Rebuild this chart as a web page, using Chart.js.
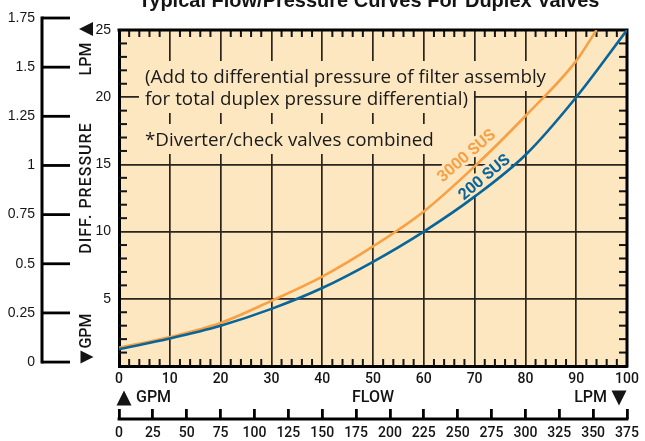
<!DOCTYPE html>
<html>
<head>
<meta charset="utf-8">
<title>Typical Flow/Pressure Curves For Duplex Valves</title>
<script src="https://cdn.jsdelivr.net/npm/chart.js@4.4.1/dist/chart.umd.min.js"></script>
<style>
  html, body { margin: 0; padding: 0; background: #ffffff; }
  canvas { display: block; }
</style>
</head>
<body>
<canvas id="flowChart" width="645" height="441"></canvas>
<script>
// flow (GPM) against pressure drop (PSI)
const flowGpm = [0, 10, 20, 30, 40, 50, 60, 70, 80, 90, 100];
const dp200Sus = [1.25, 2.05, 3.0, 4.25, 5.8, 7.75, 10.0, 12.6, 15.7, 20.0, 25.0];
const flowGpm3000 = [0, 10, 20, 30, 40, 50, 60, 70, 80, 90, 94];
const dp3000Sus = [1.35, 2.15, 3.2, 4.85, 6.65, 8.9, 11.5, 14.85, 18.6, 22.7, 25.0];

const flowTicks = [0, 10, 20, 30, 40, 50, 60, 70, 80, 90, 100];
const psiTicks = [5, 10, 15, 20, 25];
const barTicks = [0, 0.25, 0.5, 0.75, 1, 1.25, 1.5, 1.75];
const lpmTicks = [0, 25, 50, 75, 100, 125, 150, 175, 200, 225, 250, 275, 300, 325, 350, 375];

const chartTitle = "Typical Flow/Pressure Curves For Duplex Valves";
const noteLines = [
  "(Add to differential pressure of filter assembly",
  "for total duplex pressure differential)",
  "*Diverter/check valves combined"
];

const BLUE = "#08659a";
const ORANGE = "#f7a044";
const BEIGE = "#fde7c1";
const INK = "#141414";
const GRID = "#2a241c";
const DIN = "Roboto, 'DejaVu Sans', sans-serif";
const HELV = "'Liberation Sans', Arial, sans-serif";

function toPoints(xs, ys) {
  return xs.map((x, i) => ({ x, y: ys[i] }));
}

function seg(ctx, x1, y1, x2, y2) {
  ctx.beginPath();
  ctx.moveTo(x1, y1);
  ctx.lineTo(x2, y2);
  ctx.stroke();
}

function tri(ctx, cx, cy, dir, s) {
  const h = s / 2;
  ctx.beginPath();
  if (dir === "up") { ctx.moveTo(cx - h, cy + h); ctx.lineTo(cx + h, cy + h); ctx.lineTo(cx, cy - h); }
  if (dir === "down") { ctx.moveTo(cx - h, cy - h); ctx.lineTo(cx + h, cy - h); ctx.lineTo(cx, cy + h); }
  if (dir === "left") { ctx.moveTo(cx + h, cy - h); ctx.lineTo(cx + h, cy + h); ctx.lineTo(cx - h, cy); }
  if (dir === "right") { ctx.moveTo(cx - h, cy - h); ctx.lineTo(cx - h, cy + h); ctx.lineTo(cx + h, cy); }
  ctx.closePath();
  ctx.fill();
}

function rotText(ctx, text, x, y, angle, halo) {
  ctx.save();
  ctx.translate(x, y);
  ctx.rotate(angle);
  if (halo) {
    ctx.strokeStyle = BEIGE;
    ctx.lineWidth = 6;
    ctx.lineJoin = "round";
    ctx.strokeText(text, 0, 0);
  }
  ctx.fillText(text, 0, 0);
  ctx.restore();
}

const plotDecor = {
  id: "plotDecor",
  beforeDraw(chart) {
    const { ctx, chartArea: a } = chart;
    ctx.save();
    ctx.fillStyle = BEIGE;
    ctx.fillRect(a.left, a.top, a.right - a.left, a.bottom - a.top);
    ctx.restore();
  },
  beforeDatasetsDraw(chart) {
    const { ctx, chartArea: a, scales: { x, y } } = chart;
    ctx.save();

    // notes sit on beige patches that hide the grid behind them
    ctx.font = "18.8px 'Open Sans', sans-serif";
    ctx.textAlign = "left";
    ctx.textBaseline = "alphabetic";
    const noteX = 145;
    const baselines = [83, 105, 146];
    noteLines.forEach((t, i) => {
      const w = ctx.measureText(t).width;
      ctx.fillStyle = BEIGE;
      ctx.fillRect(noteX - 6, baselines[i] - 22, w + 12, 30);
    });
    ctx.fillStyle = "#1a1a1a";
    noteLines.forEach((t, i) => ctx.fillText(t, noteX, baselines[i]));

    // curve names, knocked out of the grid
    ctx.font = "bold 16px " + DIN;
    ctx.textAlign = "center";
    ctx.textBaseline = "middle";
    ctx.fillStyle = ORANGE;
    rotText(ctx, "3000 SUS", x.getPixelForValue(68.5), y.getPixelForValue(15.6), -41 * Math.PI / 180, true);
    ctx.fillStyle = BLUE;
    rotText(ctx, "200 SUS", x.getPixelForValue(72.0), y.getPixelForValue(14.0), -40 * Math.PI / 180, true);

    // minor ticks along the frame
    ctx.strokeStyle = INK;
    ctx.lineWidth = 2;
    for (let v = 1; v < y.max; v += 1) {
      if (v % 5 === 0) continue;
      const py = y.getPixelForValue(v);
      seg(ctx, a.left, py, a.left + 8, py);
      seg(ctx, a.right - 8, py, a.right, py);
    }
    for (let v = 2; v < x.max; v += 2) {
      if (v % 10 === 0) continue;
      const px = x.getPixelForValue(v);
      seg(ctx, px, a.top, px, a.top + 7);
      seg(ctx, px, a.bottom - 7, px, a.bottom);
    }

    // top and right edges of the frame
    ctx.strokeStyle = "#000";
    ctx.lineWidth = 3;
    ctx.beginPath();
    ctx.moveTo(a.left - 1.5, a.top);
    ctx.lineTo(a.right, a.top);
    ctx.lineTo(a.right, a.bottom + 1.5);
    ctx.stroke();
    ctx.restore();
  },
  afterDraw(chart) {
    const { ctx, scales: { bar, x2 } } = chart;
    ctx.save();
    ctx.fillStyle = INK;

    // title, mostly cut off by the top edge
    ctx.font = "bold 20px " + HELV;
    ctx.textAlign = "center";
    ctx.textBaseline = "alphabetic";
    ctx.fillText(chartTitle, 369, 7);

    // far left scale
    const axX = 42;
    const bTop = bar.getPixelForValue(barTicks[barTicks.length - 1]);
    const bBot = bar.getPixelForValue(barTicks[0]);
    ctx.strokeStyle = "#000";
    ctx.lineWidth = 3;
    seg(ctx, axX, bTop - 1.5, axX, bBot + 1.5);
    ctx.lineWidth = 2.8;
    ctx.font = "14px " + HELV;
    ctx.textAlign = "right";
    ctx.textBaseline = "middle";
    barTicks.forEach(v => {
      const py = bar.getPixelForValue(v);
      seg(ctx, axX, py, axX + 28, py);
      ctx.fillText(String(v), axX - 7, py);
    });

    // rotated side labels
    ctx.font = "500 16px " + DIN;
    ctx.textAlign = "center";
    ctx.textBaseline = "middle";
    ctx.letterSpacing = "1px";
    rotText(ctx, "DIFF. PRESSURE", 87, 188, -Math.PI / 2);
    ctx.letterSpacing = "0px";
    rotText(ctx, "LPM", 87, 59, -Math.PI / 2);
    rotText(ctx, "GPM", 87, 331, -Math.PI / 2);
    tri(ctx, 86, 29, "left", 14);
    tri(ctx, 87, 357, "right", 13);

    // bottom unit markers
    const midY = 398;
    tri(ctx, 124, midY, "up", 15);
    ctx.textAlign = "left";
    ctx.fillText("GPM", 136, midY);
    ctx.textAlign = "right";
    ctx.fillText("LPM", 607, midY);
    tri(ctx, 619, midY, "down", 15);

    // LPM axis base line (ticks point up from it)
    const lineY = x2.top + 10;
    ctx.strokeStyle = "#000";
    ctx.lineWidth = 2.8;
    seg(ctx, x2.getPixelForValue(lpmTicks[0]) - 1.4, lineY, x2.getPixelForValue(lpmTicks[lpmTicks.length - 1]) + 1.4, lineY);
    ctx.restore();
  }
};

const ctx = document.getElementById("flowChart").getContext("2d");

new Chart(ctx, {
  type: "scatter",
  data: {
    datasets: [
      {
        label: "200 SUS",
        data: toPoints(flowGpm, dp200Sus),
        showLine: true,
        borderColor: BLUE,
        borderWidth: 2.6,
        pointRadius: 0,
        cubicInterpolationMode: "monotone"
      },
      {
        label: "3000 SUS",
        data: toPoints(flowGpm3000, dp3000Sus),
        showLine: true,
        borderColor: ORANGE,
        borderWidth: 2.6,
        pointRadius: 0,
        cubicInterpolationMode: "monotone"
      }
    ]
  },
  options: {
    responsive: false,
    animation: false,
    devicePixelRatio: 1,
    layout: { padding: { left: 0, top: 30, right: 18, bottom: 0 } },
    plugins: {
      legend: { display: false },
      tooltip: { enabled: false }
    },
    scales: {
      x: {
        type: "linear",
        position: "bottom",
        min: 0,
        max: 100,
        afterBuildTicks: s => { s.ticks = flowTicks.map(v => ({ value: v })); },
        afterFit: s => { s.height = 43; },
        ticks: {
          color: INK,
          padding: 5,
          maxRotation: 0,
          autoSkip: false,
          font: { family: DIN, size: 14, weight: "500" }
        },
        grid: { color: GRID, lineWidth: 1.7, drawTicks: false },
        border: { color: "#000", width: 3 },
        title: {
          display: true,
          text: "FLOW",
          color: INK,
          padding: { top: 0, bottom: 1 },
          font: { family: DIN, size: 16, weight: "500" }
        }
      },
      x2: {
        type: "linear",
        position: "bottom",
        weight: 10,
        min: 0,
        max: 375,
        afterBuildTicks: s => { s.ticks = lpmTicks.map(v => ({ value: v })); },
        afterFit: s => { s.height = 32; },
        ticks: {
          color: INK,
          padding: 6,
          maxRotation: 0,
          autoSkip: false,
          font: { family: DIN, size: 14, weight: "500" }
        },
        grid: { drawOnChartArea: false, drawTicks: true, tickLength: 10, color: "#000", lineWidth: 2.8 },
        border: { display: false }
      },
      y: {
        type: "linear",
        position: "left",
        min: 0,
        max: 25,
        afterBuildTicks: s => { s.ticks = psiTicks.map(v => ({ value: v })); },
        afterFit: s => { s.width = 119; },
        ticks: {
          color: INK,
          padding: 8,
          font: { family: HELV, size: 14 }
        },
        grid: { color: GRID, lineWidth: 1.7, drawTicks: false },
        border: { color: "#000", width: 3 }
      },
      // hidden bar scale; range chosen so 0 sits just above the plot floor and 1.75 above its top
      bar: {
        type: "linear",
        position: "left",
        display: false,
        min: -0.02,
        max: 1.689
      }
    }
  },
  plugins: [plotDecor]
});
</script>
</body>
</html>
